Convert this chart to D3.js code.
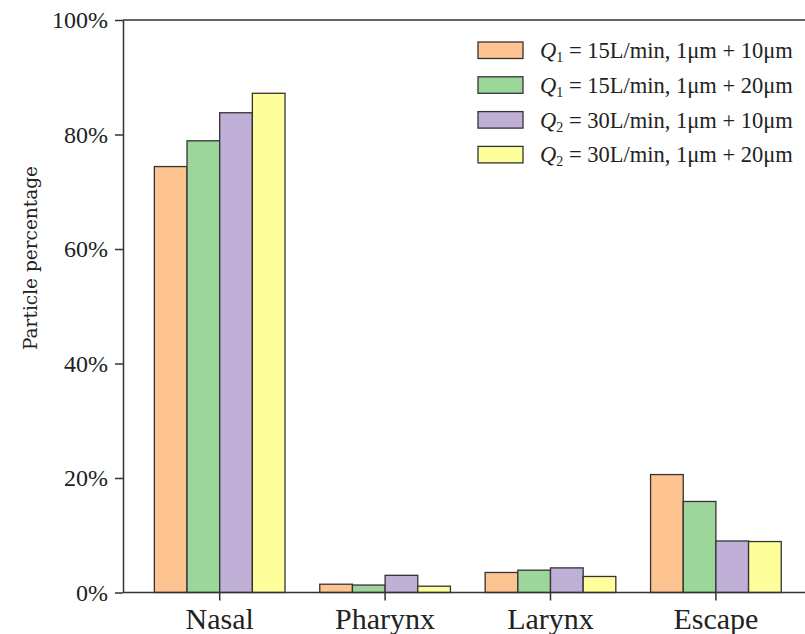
<!DOCTYPE html>
<html>
<head>
<meta charset="utf-8">
<script src="https://cdn.jsdelivr.net/npm/d3@7"></script>
<style>
  body { margin: 0; background: #fff; }
  svg text { font-family: "Liberation Serif", "Times New Roman", serif; fill: #222; }
</style>
</head>
<body>
<svg id="chart" width="805" height="634"></svg>
<script>
const regions = ["Nasal", "Pharynx", "Larynx", "Escape"];
const seriesKeys = ["s1", "s2", "s3", "s4"];
const seriesQ = ["1", "1", "2", "2"];
const seriesFlow = ["15", "15", "30", "30"];
const seriesSize = ["10", "20", "10", "20"];
const seriesColors = ["#fdc491", "#9cd69a", "#c0b0d7", "#fefe9a"];
// percentages, one array per series, in region order
const s1 = [74.4, 1.45, 3.5, 20.6];
const s2 = [78.9, 1.3, 3.9, 15.9];
const s3 = [83.8, 3.0, 4.3, 9.0];
const s4 = [87.2, 1.1, 2.8, 8.9];
const yTicks = [0, 20, 40, 60, 80, 100];

const values = [s1, s2, s3, s4];
const data = regions.map((r, i) => ({
  region: r,
  vals: seriesKeys.map((k, j) => ({ key: k, idx: j, v: values[j][i] }))
}));

const svg = d3.select("#chart");
const mLeft = 123, mTop = 20, mBottom = 592.5, mRight = 805;

const y = d3.scaleLinear().domain([0, 100]).range([mBottom, mTop]);
const x = d3.scaleBand().domain(regions).range([137, 798.6])
  .paddingInner(0.21).paddingOuter(0.105);
const xs = d3.scaleBand().domain(seriesKeys).range([0, x.bandwidth()]);

// bars
svg.append("g").selectAll("g")
  .data(data)
  .join("g")
  .attr("transform", d => `translate(${x(d.region)},0)`)
  .selectAll("rect")
  .data(d => d.vals)
  .join("rect")
  .attr("x", d => xs(d.key))
  .attr("y", d => y(d.v))
  .attr("width", xs.bandwidth())
  .attr("height", d => y(0) - y(d.v))
  .attr("fill", d => seriesColors[d.idx])
  .attr("stroke", "#333")
  .attr("stroke-width", 1.3);

// top frame line
svg.append("line").attr("x1", mLeft).attr("x2", mRight).attr("y1", mTop).attr("y2", mTop)
  .attr("stroke", "#333").attr("stroke-width", 1.5);

// y axis
const yAxis = svg.append("g")
  .attr("transform", `translate(${mLeft},0)`)
  .call(d3.axisLeft(y).tickValues(yTicks).tickFormat(d => d + "%").tickSize(8).tickSizeOuter(0));
yAxis.select(".domain").attr("stroke", "#333").attr("stroke-width", 1.5);
yAxis.selectAll(".tick line").attr("stroke", "#333").attr("stroke-width", 1.5);
yAxis.selectAll(".tick text").attr("x", -15).attr("font-size", 24);

// x axis
const xAxis = svg.append("g")
  .attr("transform", `translate(0,${mBottom})`)
  .call(d3.axisBottom(x).tickSize(8).tickSizeOuter(0));
xAxis.select(".domain").remove();
xAxis.append("line").attr("x1", mLeft).attr("x2", mRight).attr("stroke", "#333").attr("stroke-width", 1.5);
xAxis.selectAll(".tick line").attr("stroke", "#333").attr("stroke-width", 1.5);
xAxis.selectAll(".tick text").attr("y", 36.5).attr("dy", null).attr("font-size", 30);

// y label
svg.append("text")
  .attr("transform", "translate(37,258) rotate(-90)")
  .attr("text-anchor", "middle")
  .style("font-family", "'DejaVu Serif'")
  .attr("font-size", 18.5)
  .text("Particle percentage");

// legend
const legend = svg.append("g").attr("transform", "translate(478,42)");
seriesKeys.forEach((k, j) => {
  const g = legend.append("g").attr("transform", `translate(0,${j * 34.8})`);
  g.append("rect").attr("width", 45).attr("height", 16.5)
    .attr("fill", seriesColors[j]).attr("stroke", "#333").attr("stroke-width", 1.3);
  const t = g.append("text").attr("x", 62).attr("y", 16).attr("font-size", 22.5);
  t.append("tspan").attr("font-style", "italic").text("Q");
  t.append("tspan").attr("font-size", 14).attr("dy", 4).text(seriesQ[j]);
  t.append("tspan").attr("dy", -4).text(` = ${seriesFlow[j]}L/min, 1\u03bcm + ${seriesSize[j]}\u03bcm`);
});
</script>
</body>
</html>
